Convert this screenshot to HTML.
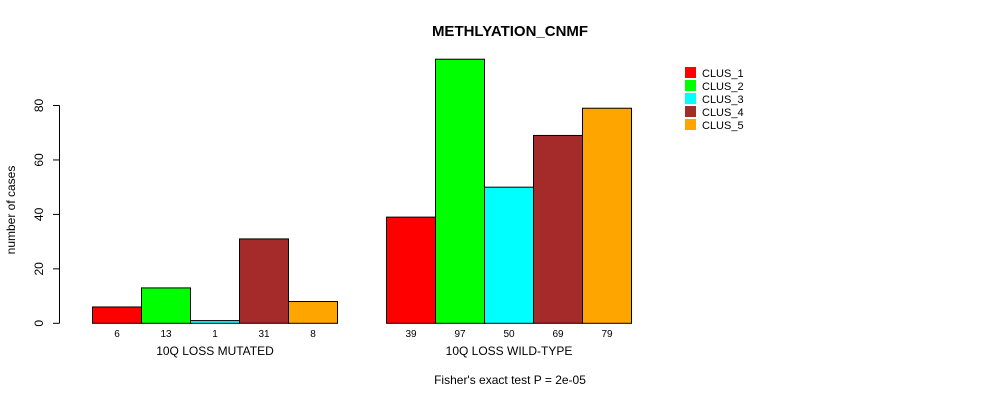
<!DOCTYPE html>
<html><head><meta charset="utf-8"><style>
body{margin:0;background:#fff}
svg{display:block;font-family:"Liberation Sans",Arial,sans-serif}
</style></head><body>
<svg id="chart" width="990" height="400">
<text x="510" y="36" text-anchor="middle" font-size="15" font-weight="bold">METHLYATION_CNMF</text>
<text transform="translate(15,210) rotate(-90)" text-anchor="middle" font-size="12">number of cases</text>
<text x="510" y="384" text-anchor="middle" font-size="12">Fisher's exact test P = 2e-05</text>
<g id="axis"></g><g id="bars"></g><g id="legend"></g>
</svg>
<script>
const groups=["10Q LOSS MUTATED","10Q LOSS WILD-TYPE"];
const clusters=["CLUS_1","CLUS_2","CLUS_3","CLUS_4","CLUS_5"];
const colors=["#ff0000","#00ff00","#00ffff","#a52a2a","#ffa500"];
const mutated=[6,13,1,31,8];
const wildtype=[39,97,50,69,79];
const yTicks=[0,20,40,60,80];
const NS="http://www.w3.org/2000/svg";
const y0=323.3,yPer=(323.3-105.5)/80;
function y(v){return y0-v*yPer;}
const bw=49,gStart=[92.5,386.5];
function mk(t,a,p){const e=document.createElementNS(NS,t);for(const k in a)e.setAttribute(k,a[k]);p.appendChild(e);return e;}
const ax=document.getElementById('axis');
const axl=mk('line',{x1:59.5,x2:59.5,y1:y(0),y2:y(80),stroke:'#000'},ax);


yTicks.forEach(t=>{
 const l=mk('line',{x1:53,x2:59.5,y1:y(t),y2:y(t),stroke:'#000'},ax);
 
 
 const tx=mk('text',{transform:`translate(43,${y(t)}) rotate(-90)`,'text-anchor':'middle','font-size':12},ax);
 tx.textContent=t;
 
 
});
const bars=document.getElementById('bars');
[mutated,wildtype].forEach((vals,g)=>{
 vals.forEach((v,i)=>{
  const x=gStart[g]+i*bw;
  const r=mk('rect',{x:x,y:y(v),width:bw,height:y(0)-y(v),fill:colors[i],stroke:'#000','stroke-width':1},bars);
  
  
  const t=mk('text',{x:x+bw/2,y:337,'text-anchor':'middle','font-size':10},bars);
  t.textContent=v;
  
  
 });
 const gl=mk('text',{x:gStart[g]+bw*2.5,y:355,'text-anchor':'middle','font-size':12},bars);
 gl.textContent=groups[g];
 
 
});
const lg=document.getElementById('legend');
clusters.forEach((c,i)=>{
 const r=mk('rect',{x:685,y:67+i*13,width:11,height:11,fill:colors[i]},lg);
 
 
 const t=mk('text',{x:702,y:77+i*13,'font-size':11},lg);
 t.textContent=c;
 
 
});
</script>
</body></html>
